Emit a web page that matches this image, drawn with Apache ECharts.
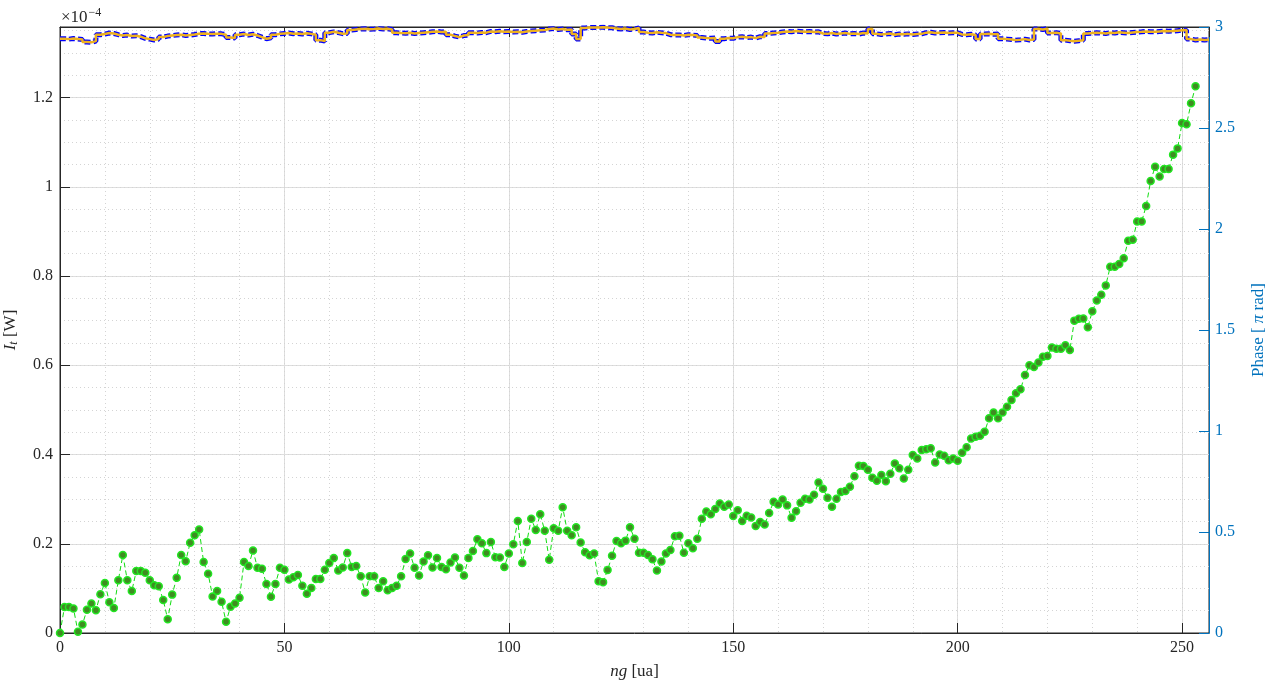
<!DOCTYPE html>
<html>
<head>
<meta charset="utf-8">
<script src="https://cdn.jsdelivr.net/npm/echarts@6/dist/echarts.min.js"></script>
<style>
html,body{margin:0;padding:0;background:#fff;}
#c{width:1265px;height:681px;}
</style>
</head>
<body>
<div id="c"></div>
<script>
// Intensity I_t (units of 1e-4 W), index ng = 0..253
var intensity = [
0,0.058,0.058,0.055,0.003,0.019,0.052,0.066,0.051,0.087,
0.112,0.069,0.056,0.118,0.175,0.118,0.094,0.139,0.139,0.135,
0.118,0.107,0.105,0.074,0.031,0.086,0.124,0.175,0.161,0.202,
0.219,0.232,0.159,0.133,0.082,0.094,0.070,0.025,0.059,0.066,
0.079,0.159,0.150,0.185,0.146,0.144,0.110,0.081,0.110,0.146,
0.142,0.120,0.125,0.130,0.106,0.088,0.101,0.121,0.121,0.142,
0.157,0.168,0.140,0.147,0.179,0.148,0.150,0.127,0.091,0.127,
0.127,0.101,0.116,0.096,0.101,0.106,0.127,0.166,0.178,0.146,
0.129,0.160,0.174,0.147,0.168,0.148,0.143,0.158,0.169,0.146,
0.129,0.168,0.184,0.210,0.201,0.179,0.204,0.170,0.169,0.148,
0.178,0.199,0.251,0.157,0.204,0.256,0.231,0.266,0.229,0.164,
0.235,0.229,0.282,0.229,0.219,0.237,0.203,0.181,0.174,0.178,
0.116,0.114,0.141,0.173,0.206,0.201,0.207,0.237,0.211,0.180,
0.180,0.175,0.165,0.140,0.160,0.178,0.186,0.217,0.218,0.180,
0.201,0.190,0.211,0.256,0.272,0.266,0.278,0.290,0.283,0.288,
0.262,0.275,0.251,0.263,0.259,0.240,0.249,0.243,0.269,0.294,
0.288,0.299,0.286,0.258,0.273,0.292,0.301,0.299,0.310,0.337,
0.323,0.303,0.283,0.301,0.316,0.318,0.328,0.351,0.375,0.374,
0.366,0.348,0.341,0.354,0.340,0.357,0.380,0.369,0.346,0.366,
0.399,0.391,0.410,0.412,0.414,0.382,0.400,0.397,0.387,0.391,
0.386,0.404,0.416,0.436,0.440,0.442,0.451,0.481,0.494,0.481,
0.494,0.507,0.522,0.537,0.546,0.578,0.600,0.596,0.606,0.619,
0.621,0.640,0.637,0.637,0.645,0.634,0.700,0.704,0.705,0.685,
0.721,0.745,0.758,0.779,0.821,0.821,0.827,0.840,0.879,0.881,
0.922,0.922,0.957,1.013,1.045,1.023,1.040,1.040,1.072,1.086,
1.143,1.140,1.187,1.225
];

// Phase (units of pi rad), index ng = 0..255
var phase = [
2.942,2.940,2.943,2.941,2.938,2.926,2.924,2.930,2.962,2.965,
2.970,2.968,2.962,2.958,2.960,2.955,2.957,2.952,2.944,2.940,
2.936,2.940,2.950,2.955,2.958,2.960,2.962,2.958,2.960,2.963,
2.967,2.968,2.966,2.965,2.967,2.966,2.962,2.948,2.946,2.962,
2.965,2.960,2.964,2.958,2.950,2.942,2.946,2.962,2.966,2.968,
2.970,2.967,2.968,2.965,2.969,2.966,2.962,2.935,2.930,2.972,
2.976,2.972,2.967,2.968,2.985,2.988,2.990,2.991,2.989,2.990,
2.992,2.990,2.991,2.988,2.972,2.970,2.969,2.971,2.968,2.970,
2.972,2.974,2.976,2.978,2.975,2.977,2.962,2.955,2.950,2.958,
2.960,2.972,2.970,2.973,2.972,2.978,2.977,2.979,2.976,2.978,
2.975,2.977,2.974,2.978,2.980,2.982,2.984,2.985,2.990,2.992,
2.988,2.990,2.986,2.988,2.965,2.940,2.995,2.997,2.998,2.998,
2.999,2.997,2.996,2.992,2.990,2.992,2.988,2.990,2.995,2.975,
2.972,2.970,2.974,2.971,2.970,2.962,2.960,2.961,2.958,2.962,
2.960,2.958,2.948,2.945,2.944,2.946,2.928,2.942,2.945,2.944,
2.950,2.952,2.948,2.950,2.945,2.952,2.950,2.968,2.970,2.972,
2.975,2.978,2.976,2.980,2.978,2.976,2.978,2.975,2.976,2.968,
2.966,2.970,2.965,2.968,2.970,2.966,2.968,2.965,2.970,2.968,
2.990,2.966,2.963,2.965,2.968,2.962,2.965,2.964,2.966,2.963,
2.965,2.966,2.972,2.974,2.970,2.972,2.973,2.970,2.972,2.971,
2.963,2.962,2.964,2.960,2.940,2.965,2.966,2.964,2.965,2.942,
2.940,2.938,2.935,2.937,2.940,2.936,2.938,2.990,2.988,2.992,
2.970,2.972,2.968,2.935,2.932,2.930,2.932,2.934,2.968,2.970,
2.972,2.970,2.968,2.972,2.970,2.974,2.972,2.970,2.973,2.975,
2.976,2.978,2.977,2.976,2.978,2.980,2.979,2.980,2.982,2.984,
2.985,2.940,2.936,2.938,2.936,2.937
];

var xTicksMajor = 50, xTicksMinor = 10, xMax = 256;
var yLeftMax = 1.358, yLeftMajor = 0.2, yLeftMinor = 0.05;
var yRightMax = 3, yRightMajor = 0.5;

var intensityData = intensity.map(function (v, i) { return [i, v]; });
var phaseData = phase.map(function (v, i) { return [i, v]; });
phaseData.push([xMax, phase[phase.length - 1]]);

var FONT = '"Liberation Serif", "DejaVu Serif", serif';
var AX = '#262626';
var BLUE = '#0072BD';

var chart = echarts.init(document.getElementById('c'), null, {renderer: 'canvas'});
chart.setOption({
  animation: false,
  backgroundColor: '#fff',
  textStyle: {fontFamily: FONT},
  grid: {left: 60, right: 56, top: 27, bottom: 48, show: true, borderColor: AX, borderWidth: 1,
         backgroundColor: 'transparent', containLabel: false, outerBoundsMode: 'none'},
  graphic: [{
    type: 'text', left: 61, top: 7,
    style: {
      text: '×10{s|−4}', fontFamily: FONT, fontSize: 17, fill: AX,
      rich: {s: {fontSize: 12, verticalAlign: 'top', padding: [0, 0, 9, 1], fontFamily: FONT, fill: AX}}
    }
  }],
  xAxis: [{
    type: 'value', min: 0, max: xMax, interval: xTicksMajor,
    position: 'bottom',
    name: '{i|ng} [ua]', nameLocation: 'middle', nameGap: 30, nameMoveOverlap: false,
    nameTextStyle: {fontFamily: FONT, fontSize: 17, color: AX, rich: {i: {fontStyle: 'italic', fontFamily: FONT, fontSize: 17, color: AX}}},
    axisLine: {show: true, onZero: false, lineStyle: {color: AX, width: 1}},
    axisTick: {show: true, inside: true, length: 10, lineStyle: {color: AX}},
    axisLabel: {fontFamily: FONT, fontSize: 16, color: AX, margin: 7, showMaxLabel: false},
    splitLine: {show: true, lineStyle: {color: '#dedede', width: 1}}
  }, {
    type: 'value', min: 0, max: xMax, interval: xTicksMajor,
    position: 'top',
    axisLine: {show: true, onZero: false, lineStyle: {color: AX, width: 1}},
    axisTick: {show: true, inside: true, length: 10, lineStyle: {color: AX}},
    axisLabel: {show: false},
    splitLine: {show: false}
  }, {
    type: 'value', min: 0, max: xMax, interval: xTicksMinor,
    position: 'bottom', offset: 0,
    axisLine: {show: false, onZero: false}, axisTick: {show: false}, axisLabel: {show: false},
    splitLine: {show: true, lineStyle: {color: '#d4d4d4', width: 1, type: [1, 3]}}
  }],
  yAxis: [{
    type: 'value', min: 0, max: yLeftMax, interval: yLeftMajor,
    position: 'left',
    name: '{i|I}{sub|t} [W]', nameLocation: 'middle', nameGap: 40, nameMoveOverlap: false,
    nameTextStyle: {fontFamily: FONT, fontSize: 17, color: AX,
      rich: {i: {fontStyle: 'italic', fontFamily: FONT, fontSize: 17, color: AX},
             sub: {fontStyle: 'italic', fontFamily: FONT, fontSize: 12, color: AX, verticalAlign: 'bottom', padding: [6, 0, 0, 0]}}},
    axisLine: {show: true, onZero: false, lineStyle: {color: AX, width: 1}},
    axisTick: {show: true, inside: true, length: 10, lineStyle: {color: AX}},
    axisLabel: {fontFamily: FONT, fontSize: 16, color: AX, margin: 7, showMaxLabel: false},
    splitLine: {show: true, lineStyle: {color: '#dedede', width: 1}}
  }, {
    type: 'value', min: 0, max: yRightMax, interval: yRightMajor,
    position: 'right',
    name: 'Phase [ {i|π} rad]', nameLocation: 'middle', nameGap: 41, nameRotate: 90, nameMoveOverlap: false,
    nameTextStyle: {fontFamily: FONT, fontSize: 17, color: BLUE,
      rich: {i: {fontStyle: 'italic', fontFamily: FONT, fontSize: 17, color: BLUE}}},
    axisLine: {show: true, onZero: false, lineStyle: {color: BLUE, width: 1}},
    axisTick: {show: true, inside: true, length: 10, lineStyle: {color: BLUE}},
    axisLabel: {fontFamily: FONT, fontSize: 16, color: BLUE, margin: 6},
    splitLine: {show: false}
  }, {
    type: 'value', min: 0, max: yLeftMax, interval: yLeftMinor,
    position: 'left', offset: 0,
    axisLine: {show: false, onZero: false}, axisTick: {show: false}, axisLabel: {show: false},
    splitLine: {show: true, lineStyle: {color: '#d4d4d4', width: 1, type: [1, 3]}}
  }],
  series: [{
    name: 'Intensity', type: 'line', xAxisIndex: 0, yAxisIndex: 0,
    data: intensityData,
    symbol: 'circle', symbolSize: 7,
    lineStyle: {color: '#11dd11', width: 1, type: [5, 3]},
    itemStyle: {color: '#3f8c22', borderColor: '#22e622', borderWidth: 1.5},
    z: 3
  }, {
    name: 'PhaseBg', type: 'line', xAxisIndex: 0, yAxisIndex: 1,
    data: phaseData, step: 'end', symbol: 'none',
    lineStyle: {color: '#0000ff', width: 5, type: [6, 3]},
    z: 4
  }, {
    name: 'Phase', type: 'line', xAxisIndex: 0, yAxisIndex: 1,
    data: phaseData, step: 'end', symbol: 'none',
    lineStyle: {color: '#EDB120', width: 2.5},
    z: 5
  }]
});
</script>
</body>
</html>
